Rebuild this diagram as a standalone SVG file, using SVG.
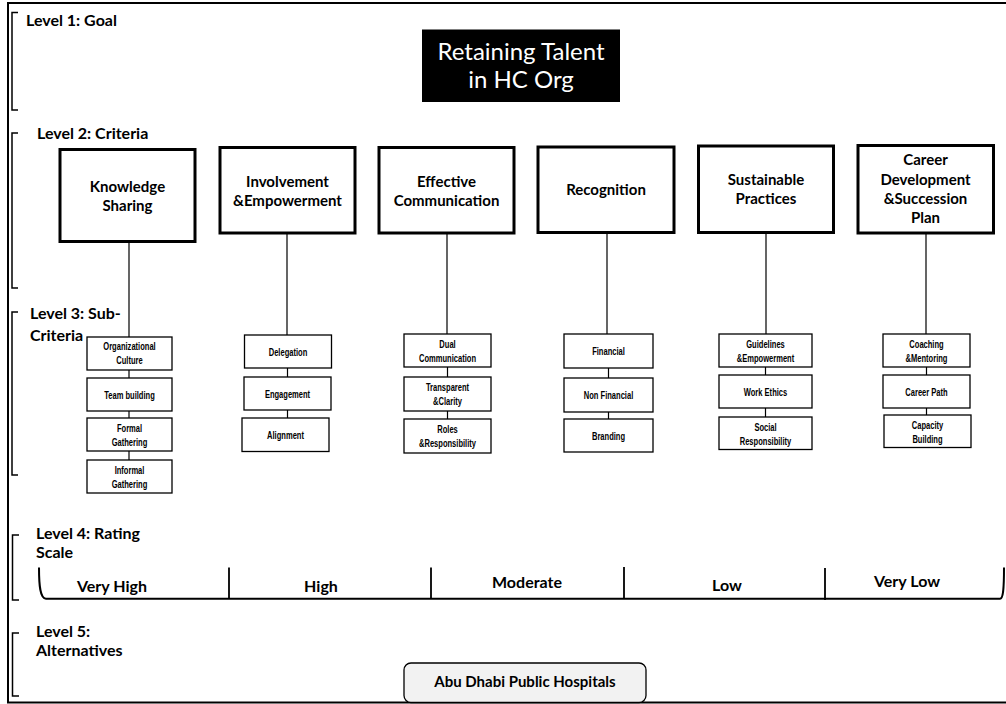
<svg xmlns="http://www.w3.org/2000/svg" width="1006" height="704" viewBox="0 0 1006 704">
<style>
.lvl{font-family:Lato,"Liberation Sans",sans-serif;font-weight:bold;font-size:16px;fill:#000}
.crit{fill:#fff;stroke:#000;stroke-width:3}
.ct{font-family:Lato,"Liberation Sans",sans-serif;font-weight:bold;font-size:15px;fill:#000;text-anchor:middle}
.sub{fill:#fff;stroke:#000;stroke-width:1.3}
.st{font-family:"Liberation Sans",Arial,sans-serif;font-weight:bold;font-size:10.5px;fill:#000;text-anchor:middle}
.rt{font-family:Lato,"Liberation Sans",sans-serif;font-weight:bold;font-size:16px;fill:#000;text-anchor:middle}
.br{fill:none;stroke:#000;stroke-width:1.5}
.cn{fill:none;stroke:#000;stroke-width:1.2}
</style>
<rect x="8" y="3" width="1000" height="699.5" fill="#fff" stroke="#000" stroke-width="2"/>

<g id="brackets">
<path class="br" d="M18,12.5 H12 V110 H18"/>
<path class="br" d="M18,133 H12 V288 H18"/>
<path class="br" d="M18,312 H12 V475 H18"/>
<path class="br" d="M19,535 H12.5 V600 H19"/>
<path class="br" d="M19,633 H12.5 V696 H19"/>
</g>

<g id="level-labels">
<text class="lvl" x="26" y="26">Level 1: Goal</text>
<text class="lvl" x="37" y="139">Level 2: Criteria</text>
<text class="lvl" x="30" y="319">Level 3: Sub-</text>
<text class="lvl" x="30" y="341">Criteria</text>
<text class="lvl" x="36" y="539">Level 4:  Rating</text>
<text class="lvl" x="36" y="558">Scale</text>
<text class="lvl" x="36" y="637">Level 5:</text>
<text class="lvl" x="36" y="656">Alternatives</text>
</g>

<g id="goal">
<rect x="422" y="29.5" width="198" height="72.5" fill="#000"/>
<text x="521" y="60" font-family="Lato,'Liberation Sans',sans-serif" font-size="24" fill="#fff" text-anchor="middle">Retaining Talent</text>
<text x="521" y="88" font-family="Lato,'Liberation Sans',sans-serif" font-size="24" fill="#fff" text-anchor="middle">in HC Org</text>
</g>

<g id="connectors">
<path class="cn" d="M129,241.5 V337 M129,370 V378 M129,411 V418 M129,451 V460"/>
<path class="cn" d="M287,233 V335 M287.5,368 V377 M287.5,410 V418"/>
<path class="cn" d="M447,233 V334 M447.5,367 V377 M447.5,411 V419"/>
<path class="cn" d="M607,232.5 V334 M608.5,368 V378 M608.5,412 V419"/>
<path class="cn" d="M766,232.5 V334 M765.5,367 V375 M765.5,408 V417"/>
<path class="cn" d="M926,233 V334 M926.5,367 V375 M926.5,408 V415"/>
</g>

<g id="crit-knowledge">
<rect class="crit" x="60" y="149.5" width="135" height="92"/>
<text class="ct" x="127.5" y="192">Knowledge</text>
<text class="ct" x="127.5" y="211">Sharing</text>
</g>
<g id="crit-involvement">
<rect class="crit" x="220" y="147.5" width="135" height="85.5"/>
<text class="ct" x="287.5" y="187">Involvement</text>
<text class="ct" x="287.5" y="206">&amp;Empowerment</text>
</g>
<g id="crit-communication">
<rect class="crit" x="379" y="147.5" width="135" height="85.5"/>
<text class="ct" x="446.5" y="187">Effective</text>
<text class="ct" x="446.5" y="206">Communication</text>
</g>
<g id="crit-recognition">
<rect class="crit" x="538" y="147" width="136" height="85.5"/>
<text class="ct" x="606" y="195">Recognition</text>
</g>
<g id="crit-sustainable">
<rect class="crit" x="698.5" y="146" width="135" height="86.5"/>
<text class="ct" x="766" y="185">Sustainable</text>
<text class="ct" x="766" y="204">Practices</text>
</g>
<g id="crit-career">
<rect class="crit" x="858" y="145.5" width="135.5" height="87.5"/>
<text class="ct" x="925.5" y="165">Career</text>
<text class="ct" x="925.5" y="184.5">Development</text>
<text class="ct" x="925.5" y="204">&amp;Succession</text>
<text class="ct" x="925.5" y="223">Plan</text>
</g>

<g id="sub-org-culture"><rect class="sub" x="87" y="337" width="85" height="33"/><text class="st" transform="translate(129.5,350) scale(0.72,1)">Organizational</text><text class="st" transform="translate(129.5,364) scale(0.72,1)">Culture</text></g>
<g id="sub-team"><rect class="sub" x="87" y="378" width="85" height="33"/><text class="st" transform="translate(129.5,398.5) scale(0.72,1)">Team building</text></g>
<g id="sub-formal"><rect class="sub" x="87" y="418" width="85" height="33"/><text class="st" transform="translate(129.5,431.5) scale(0.72,1)">Formal</text><text class="st" transform="translate(129.5,445.5) scale(0.72,1)">Gathering</text></g>
<g id="sub-informal"><rect class="sub" x="87" y="460" width="85" height="33"/><text class="st" transform="translate(129.5,473.5) scale(0.72,1)">Informal</text><text class="st" transform="translate(129.5,487.5) scale(0.72,1)">Gathering</text></g>

<g id="sub-delegation"><rect class="sub" x="244.5" y="335" width="87" height="33"/><text class="st" transform="translate(288,355.5) scale(0.72,1)">Delegation</text></g>
<g id="sub-engagement"><rect class="sub" x="244" y="377" width="87" height="33"/><text class="st" transform="translate(287.5,397.5) scale(0.72,1)">Engagement</text></g>
<g id="sub-alignment"><rect class="sub" x="242" y="418" width="87" height="33.5"/><text class="st" transform="translate(285.5,438.5) scale(0.72,1)">Alignment</text></g>

<g id="sub-dual"><rect class="sub" x="404" y="334" width="87" height="33"/><text class="st" transform="translate(447.5,348) scale(0.72,1)">Dual</text><text class="st" transform="translate(447.5,362) scale(0.72,1)">Communication</text></g>
<g id="sub-transparent"><rect class="sub" x="404" y="377" width="87" height="34"/><text class="st" transform="translate(447.5,391) scale(0.72,1)">Transparent</text><text class="st" transform="translate(447.5,405) scale(0.72,1)">&amp;Clarity</text></g>
<g id="sub-roles"><rect class="sub" x="404" y="419" width="87" height="34"/><text class="st" transform="translate(447.5,433) scale(0.72,1)">Roles</text><text class="st" transform="translate(447.5,447) scale(0.72,1)">&amp;Responsibility</text></g>

<g id="sub-financial"><rect class="sub" x="564" y="334" width="89" height="34"/><text class="st" transform="translate(608.5,355) scale(0.72,1)">Financial</text></g>
<g id="sub-nonfinancial"><rect class="sub" x="564" y="378" width="89" height="34"/><text class="st" transform="translate(608.5,399) scale(0.72,1)">Non Financial</text></g>
<g id="sub-branding"><rect class="sub" x="564" y="419" width="89" height="33"/><text class="st" transform="translate(608.5,439.5) scale(0.72,1)">Branding</text></g>

<g id="sub-guidelines"><rect class="sub" x="719" y="334" width="93" height="33"/><text class="st" transform="translate(765.5,347.5) scale(0.72,1)">Guidelines</text><text class="st" transform="translate(765.5,361.5) scale(0.72,1)">&amp;Empowerment</text></g>
<g id="sub-ethics"><rect class="sub" x="719" y="375" width="93" height="33"/><text class="st" transform="translate(765.5,395.5) scale(0.72,1)">Work Ethics</text></g>
<g id="sub-social"><rect class="sub" x="719" y="417" width="93" height="32.5"/><text class="st" transform="translate(765.5,430.5) scale(0.72,1)">Social</text><text class="st" transform="translate(765.5,444.5) scale(0.72,1)">Responsibility</text></g>

<g id="sub-coaching"><rect class="sub" x="883" y="334" width="87" height="33"/><text class="st" transform="translate(926.5,347.5) scale(0.72,1)">Coaching</text><text class="st" transform="translate(926.5,361.5) scale(0.72,1)">&amp;Mentoring</text></g>
<g id="sub-careerpath"><rect class="sub" x="883" y="375" width="87" height="33"/><text class="st" transform="translate(926.5,395.5) scale(0.72,1)">Career Path</text></g>
<g id="sub-capacity"><rect class="sub" x="884" y="415" width="87" height="32.5"/><text class="st" transform="translate(927.5,428.5) scale(0.72,1)">Capacity</text><text class="st" transform="translate(927.5,442.5) scale(0.72,1)">Building</text></g>

<g id="rating-scale">
<path fill="none" stroke="#000" stroke-width="2" d="M39,567.5 C39,585 40,598.7 46,598.7 H1000 C1003,598.7 1004,590 1004,567.5"/>
<path fill="none" stroke="#000" stroke-width="1.8" d="M229,567.5 V598.7 M431,567.5 V598.7 M624,567 V598.7 M825,568 V600"/>
<text class="rt" x="112" y="591.5">Very High</text>
<text class="rt" x="321" y="591.5">High</text>
<text class="rt" x="527" y="588">Moderate</text>
<text class="rt" x="727" y="591">Low</text>
<text class="rt" x="907" y="587">Very Low</text>
</g>

<g id="alternative">
<rect x="404" y="663" width="242" height="39.5" rx="7" fill="#f2f2f2" stroke="#000" stroke-width="1.3"/>
<text x="525" y="687" font-family="Lato,'Liberation Sans',sans-serif" font-weight="bold" font-size="15" text-anchor="middle">Abu Dhabi Public Hospitals</text>
</g>
</svg>
